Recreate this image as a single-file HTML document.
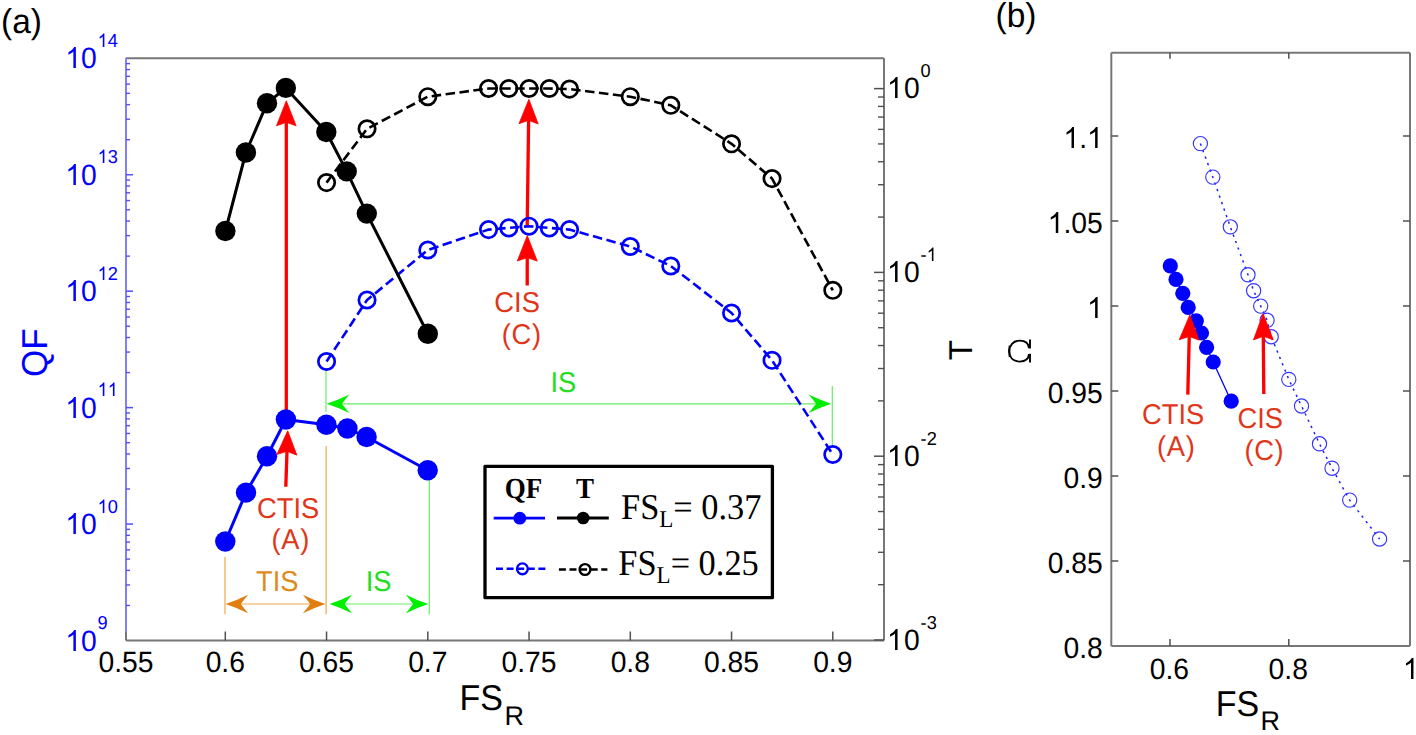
<!DOCTYPE html>
<html><head><meta charset="utf-8"><style>html,body{margin:0;padding:0;background:#fff;width:1416px;height:735px;overflow:hidden}svg{display:block} text{text-rendering:geometricPrecision}</style></head>
<body>
<svg width="1416" height="735" viewBox="0 0 1416 735">
<rect width="1416" height="735" fill="#fff"/>
<line x1="126.00" y1="58.30" x2="884.00" y2="58.30" stroke="#777777" stroke-width="2" />
<line x1="884.00" y1="58.30" x2="884.00" y2="640.50" stroke="#777777" stroke-width="2" />
<line x1="126.00" y1="640.50" x2="884.00" y2="640.50" stroke="#777777" stroke-width="2" />
<g transform="translate(98.46,672.00) scale(1.0,1.04)" fill="#000"><text x="0.00" y="0" font-size="28.3" font-family="'Liberation Sans', sans-serif">0.55</text></g>
<line x1="225.30" y1="640.50" x2="225.30" y2="631.50" stroke="#505050" stroke-width="1.5" />
<g transform="translate(205.63,672.00) scale(1.0,1.04)" fill="#000"><text x="0.00" y="0" font-size="28.3" font-family="'Liberation Sans', sans-serif">0.6</text></g>
<line x1="326.55" y1="640.50" x2="326.55" y2="631.50" stroke="#505050" stroke-width="1.5" />
<g transform="translate(299.01,672.00) scale(1.0,1.04)" fill="#000"><text x="0.00" y="0" font-size="28.3" font-family="'Liberation Sans', sans-serif">0.65</text></g>
<line x1="427.80" y1="640.50" x2="427.80" y2="631.50" stroke="#505050" stroke-width="1.5" />
<g transform="translate(408.13,672.00) scale(1.0,1.04)" fill="#000"><text x="0.00" y="0" font-size="28.3" font-family="'Liberation Sans', sans-serif">0.7</text></g>
<line x1="529.05" y1="640.50" x2="529.05" y2="631.50" stroke="#505050" stroke-width="1.5" />
<g transform="translate(501.51,672.00) scale(1.0,1.04)" fill="#000"><text x="0.00" y="0" font-size="28.3" font-family="'Liberation Sans', sans-serif">0.75</text></g>
<line x1="630.30" y1="640.50" x2="630.30" y2="631.50" stroke="#505050" stroke-width="1.5" />
<g transform="translate(610.63,672.00) scale(1.0,1.04)" fill="#000"><text x="0.00" y="0" font-size="28.3" font-family="'Liberation Sans', sans-serif">0.8</text></g>
<line x1="731.55" y1="640.50" x2="731.55" y2="631.50" stroke="#505050" stroke-width="1.5" />
<g transform="translate(704.01,672.00) scale(1.0,1.04)" fill="#000"><text x="0.00" y="0" font-size="28.3" font-family="'Liberation Sans', sans-serif">0.85</text></g>
<line x1="832.80" y1="640.50" x2="832.80" y2="631.50" stroke="#505050" stroke-width="1.5" />
<g transform="translate(813.13,672.00) scale(1.0,1.04)" fill="#000"><text x="0.00" y="0" font-size="28.3" font-family="'Liberation Sans', sans-serif">0.9</text></g>
<line x1="884.00" y1="88.60" x2="874.00" y2="88.60" stroke="#505050" stroke-width="1.5" />
<line x1="884.00" y1="217.07" x2="878.00" y2="217.07" stroke="#505050" stroke-width="1.4" />
<line x1="884.00" y1="184.71" x2="878.00" y2="184.71" stroke="#505050" stroke-width="1.4" />
<line x1="884.00" y1="161.74" x2="878.00" y2="161.74" stroke="#505050" stroke-width="1.4" />
<line x1="884.00" y1="143.93" x2="878.00" y2="143.93" stroke="#505050" stroke-width="1.4" />
<line x1="884.00" y1="129.38" x2="878.00" y2="129.38" stroke="#505050" stroke-width="1.4" />
<line x1="884.00" y1="117.07" x2="878.00" y2="117.07" stroke="#505050" stroke-width="1.4" />
<line x1="884.00" y1="106.41" x2="878.00" y2="106.41" stroke="#505050" stroke-width="1.4" />
<line x1="884.00" y1="97.01" x2="878.00" y2="97.01" stroke="#505050" stroke-width="1.4" />
<g transform="translate(887.00,98.00) scale(1.0,1.04)" fill="#000"><path transform="translate(0.00,0) scale(28.3,-28.3)" d="M0.3726,0 L0.2847,0 L0.2847,0.5601 Q0.2530,0.5298 0.2012,0.4995 Q0.1494,0.4692 0.1089,0.4541 L0.1089,0.5391 Q0.1816,0.5732 0.2361,0.6216 Q0.2905,0.6699 0.3132,0.7158 L0.3726,0.7158 Z"/><text x="17.03" y="0" font-size="28.3" font-family="'Liberation Sans', sans-serif">0</text></g>
<g transform="translate(920.60,77.00) scale(1.0,1.03)" fill="#000"><text x="0.00" y="0" font-size="18.2" font-family="'Liberation Sans', sans-serif">0</text></g>
<line x1="884.00" y1="272.40" x2="874.00" y2="272.40" stroke="#505050" stroke-width="1.5" />
<line x1="884.00" y1="400.87" x2="878.00" y2="400.87" stroke="#505050" stroke-width="1.4" />
<line x1="884.00" y1="368.51" x2="878.00" y2="368.51" stroke="#505050" stroke-width="1.4" />
<line x1="884.00" y1="345.54" x2="878.00" y2="345.54" stroke="#505050" stroke-width="1.4" />
<line x1="884.00" y1="327.73" x2="878.00" y2="327.73" stroke="#505050" stroke-width="1.4" />
<line x1="884.00" y1="313.18" x2="878.00" y2="313.18" stroke="#505050" stroke-width="1.4" />
<line x1="884.00" y1="300.87" x2="878.00" y2="300.87" stroke="#505050" stroke-width="1.4" />
<line x1="884.00" y1="290.21" x2="878.00" y2="290.21" stroke="#505050" stroke-width="1.4" />
<line x1="884.00" y1="280.81" x2="878.00" y2="280.81" stroke="#505050" stroke-width="1.4" />
<g transform="translate(887.00,282.00) scale(1.0,1.04)" fill="#000"><path transform="translate(0.00,0) scale(28.3,-28.3)" d="M0.3726,0 L0.2847,0 L0.2847,0.5601 Q0.2530,0.5298 0.2012,0.4995 Q0.1494,0.4692 0.1089,0.4541 L0.1089,0.5391 Q0.1816,0.5732 0.2361,0.6216 Q0.2905,0.6699 0.3132,0.7158 L0.3726,0.7158 Z"/><text x="17.03" y="0" font-size="28.3" font-family="'Liberation Sans', sans-serif">0</text></g>
<g transform="translate(920.60,261.00) scale(1.0,1.03)" fill="#000"><text x="0.00" y="0" font-size="18.2" font-family="'Liberation Sans', sans-serif">-</text><path transform="translate(6.06,0) scale(18.2,-18.2)" d="M0.3726,0 L0.2847,0 L0.2847,0.5601 Q0.2530,0.5298 0.2012,0.4995 Q0.1494,0.4692 0.1089,0.4541 L0.1089,0.5391 Q0.1816,0.5732 0.2361,0.6216 Q0.2905,0.6699 0.3132,0.7158 L0.3726,0.7158 Z"/></g>
<line x1="884.00" y1="456.20" x2="874.00" y2="456.20" stroke="#505050" stroke-width="1.5" />
<line x1="884.00" y1="584.67" x2="878.00" y2="584.67" stroke="#505050" stroke-width="1.4" />
<line x1="884.00" y1="552.31" x2="878.00" y2="552.31" stroke="#505050" stroke-width="1.4" />
<line x1="884.00" y1="529.34" x2="878.00" y2="529.34" stroke="#505050" stroke-width="1.4" />
<line x1="884.00" y1="511.53" x2="878.00" y2="511.53" stroke="#505050" stroke-width="1.4" />
<line x1="884.00" y1="496.98" x2="878.00" y2="496.98" stroke="#505050" stroke-width="1.4" />
<line x1="884.00" y1="484.67" x2="878.00" y2="484.67" stroke="#505050" stroke-width="1.4" />
<line x1="884.00" y1="474.01" x2="878.00" y2="474.01" stroke="#505050" stroke-width="1.4" />
<line x1="884.00" y1="464.61" x2="878.00" y2="464.61" stroke="#505050" stroke-width="1.4" />
<g transform="translate(887.00,466.00) scale(1.0,1.04)" fill="#000"><path transform="translate(0.00,0) scale(28.3,-28.3)" d="M0.3726,0 L0.2847,0 L0.2847,0.5601 Q0.2530,0.5298 0.2012,0.4995 Q0.1494,0.4692 0.1089,0.4541 L0.1089,0.5391 Q0.1816,0.5732 0.2361,0.6216 Q0.2905,0.6699 0.3132,0.7158 L0.3726,0.7158 Z"/><text x="17.03" y="0" font-size="28.3" font-family="'Liberation Sans', sans-serif">0</text></g>
<g transform="translate(920.60,445.00) scale(1.0,1.03)" fill="#000"><text x="0.00" y="0" font-size="18.2" font-family="'Liberation Sans', sans-serif">-2</text></g>
<line x1="884.00" y1="640.00" x2="874.00" y2="640.00" stroke="#505050" stroke-width="1.5" />
<g transform="translate(887.00,650.00) scale(1.0,1.04)" fill="#000"><path transform="translate(0.00,0) scale(28.3,-28.3)" d="M0.3726,0 L0.2847,0 L0.2847,0.5601 Q0.2530,0.5298 0.2012,0.4995 Q0.1494,0.4692 0.1089,0.4541 L0.1089,0.5391 Q0.1816,0.5732 0.2361,0.6216 Q0.2905,0.6699 0.3132,0.7158 L0.3726,0.7158 Z"/><text x="17.03" y="0" font-size="28.3" font-family="'Liberation Sans', sans-serif">0</text></g>
<g transform="translate(920.60,629.00) scale(1.0,1.03)" fill="#000"><text x="0.00" y="0" font-size="18.2" font-family="'Liberation Sans', sans-serif">-3</text></g>
<line x1="126.00" y1="58.30" x2="126.00" y2="640.50" stroke="#777777" stroke-width="2" />
<line x1="126.00" y1="57.80" x2="126.00" y2="631.80" stroke="#8080ff" stroke-width="2" />
<line x1="126.00" y1="139.69" x2="130.00" y2="139.69" stroke="#5050ff" stroke-width="1.4" />
<line x1="126.00" y1="119.18" x2="130.00" y2="119.18" stroke="#5050ff" stroke-width="1.4" />
<line x1="126.00" y1="104.64" x2="130.00" y2="104.64" stroke="#5050ff" stroke-width="1.4" />
<line x1="126.00" y1="93.35" x2="130.00" y2="93.35" stroke="#5050ff" stroke-width="1.4" />
<line x1="126.00" y1="84.13" x2="130.00" y2="84.13" stroke="#5050ff" stroke-width="1.4" />
<line x1="126.00" y1="76.34" x2="130.00" y2="76.34" stroke="#5050ff" stroke-width="1.4" />
<line x1="126.00" y1="69.58" x2="130.00" y2="69.58" stroke="#5050ff" stroke-width="1.4" />
<line x1="126.00" y1="63.63" x2="130.00" y2="63.63" stroke="#5050ff" stroke-width="1.4" />
<g transform="translate(65.33,68.00) scale(1.0,1.04)" fill="#0000ff"><path transform="translate(0.00,0) scale(28.3,-28.3)" d="M0.3726,0 L0.2847,0 L0.2847,0.5601 Q0.2530,0.5298 0.2012,0.4995 Q0.1494,0.4692 0.1089,0.4541 L0.1089,0.5391 Q0.1816,0.5732 0.2361,0.6216 Q0.2905,0.6699 0.3132,0.7158 L0.3726,0.7158 Z"/><text x="15.73" y="0" font-size="28.3" font-family="'Liberation Sans', sans-serif">0</text></g>
<g transform="translate(97.60,47.00) scale(1.0,1.03)" fill="#0000ff"><path transform="translate(0.00,0) scale(18.2,-18.2)" d="M0.3726,0 L0.2847,0 L0.2847,0.5601 Q0.2530,0.5298 0.2012,0.4995 Q0.1494,0.4692 0.1089,0.4541 L0.1089,0.5391 Q0.1816,0.5732 0.2361,0.6216 Q0.2905,0.6699 0.3132,0.7158 L0.3726,0.7158 Z"/><text x="10.12" y="0" font-size="18.2" font-family="'Liberation Sans', sans-serif">4</text></g>
<line x1="126.00" y1="174.74" x2="133.00" y2="174.74" stroke="#5050ff" stroke-width="1.5" />
<line x1="126.00" y1="256.13" x2="130.00" y2="256.13" stroke="#5050ff" stroke-width="1.4" />
<line x1="126.00" y1="235.62" x2="130.00" y2="235.62" stroke="#5050ff" stroke-width="1.4" />
<line x1="126.00" y1="221.08" x2="130.00" y2="221.08" stroke="#5050ff" stroke-width="1.4" />
<line x1="126.00" y1="209.79" x2="130.00" y2="209.79" stroke="#5050ff" stroke-width="1.4" />
<line x1="126.00" y1="200.57" x2="130.00" y2="200.57" stroke="#5050ff" stroke-width="1.4" />
<line x1="126.00" y1="192.78" x2="130.00" y2="192.78" stroke="#5050ff" stroke-width="1.4" />
<line x1="126.00" y1="186.02" x2="130.00" y2="186.02" stroke="#5050ff" stroke-width="1.4" />
<line x1="126.00" y1="180.07" x2="130.00" y2="180.07" stroke="#5050ff" stroke-width="1.4" />
<g transform="translate(65.33,185.00) scale(1.0,1.04)" fill="#0000ff"><path transform="translate(0.00,0) scale(28.3,-28.3)" d="M0.3726,0 L0.2847,0 L0.2847,0.5601 Q0.2530,0.5298 0.2012,0.4995 Q0.1494,0.4692 0.1089,0.4541 L0.1089,0.5391 Q0.1816,0.5732 0.2361,0.6216 Q0.2905,0.6699 0.3132,0.7158 L0.3726,0.7158 Z"/><text x="15.73" y="0" font-size="28.3" font-family="'Liberation Sans', sans-serif">0</text></g>
<g transform="translate(97.60,163.00) scale(1.0,1.03)" fill="#0000ff"><path transform="translate(0.00,0) scale(18.2,-18.2)" d="M0.3726,0 L0.2847,0 L0.2847,0.5601 Q0.2530,0.5298 0.2012,0.4995 Q0.1494,0.4692 0.1089,0.4541 L0.1089,0.5391 Q0.1816,0.5732 0.2361,0.6216 Q0.2905,0.6699 0.3132,0.7158 L0.3726,0.7158 Z"/><text x="10.12" y="0" font-size="18.2" font-family="'Liberation Sans', sans-serif">3</text></g>
<line x1="126.00" y1="291.18" x2="133.00" y2="291.18" stroke="#5050ff" stroke-width="1.5" />
<line x1="126.00" y1="372.57" x2="130.00" y2="372.57" stroke="#5050ff" stroke-width="1.4" />
<line x1="126.00" y1="352.06" x2="130.00" y2="352.06" stroke="#5050ff" stroke-width="1.4" />
<line x1="126.00" y1="337.52" x2="130.00" y2="337.52" stroke="#5050ff" stroke-width="1.4" />
<line x1="126.00" y1="326.23" x2="130.00" y2="326.23" stroke="#5050ff" stroke-width="1.4" />
<line x1="126.00" y1="317.01" x2="130.00" y2="317.01" stroke="#5050ff" stroke-width="1.4" />
<line x1="126.00" y1="309.22" x2="130.00" y2="309.22" stroke="#5050ff" stroke-width="1.4" />
<line x1="126.00" y1="302.46" x2="130.00" y2="302.46" stroke="#5050ff" stroke-width="1.4" />
<line x1="126.00" y1="296.51" x2="130.00" y2="296.51" stroke="#5050ff" stroke-width="1.4" />
<g transform="translate(65.33,301.00) scale(1.0,1.04)" fill="#0000ff"><path transform="translate(0.00,0) scale(28.3,-28.3)" d="M0.3726,0 L0.2847,0 L0.2847,0.5601 Q0.2530,0.5298 0.2012,0.4995 Q0.1494,0.4692 0.1089,0.4541 L0.1089,0.5391 Q0.1816,0.5732 0.2361,0.6216 Q0.2905,0.6699 0.3132,0.7158 L0.3726,0.7158 Z"/><text x="15.73" y="0" font-size="28.3" font-family="'Liberation Sans', sans-serif">0</text></g>
<g transform="translate(97.60,280.00) scale(1.0,1.03)" fill="#0000ff"><path transform="translate(0.00,0) scale(18.2,-18.2)" d="M0.3726,0 L0.2847,0 L0.2847,0.5601 Q0.2530,0.5298 0.2012,0.4995 Q0.1494,0.4692 0.1089,0.4541 L0.1089,0.5391 Q0.1816,0.5732 0.2361,0.6216 Q0.2905,0.6699 0.3132,0.7158 L0.3726,0.7158 Z"/><text x="10.12" y="0" font-size="18.2" font-family="'Liberation Sans', sans-serif">2</text></g>
<line x1="126.00" y1="407.62" x2="133.00" y2="407.62" stroke="#5050ff" stroke-width="1.5" />
<line x1="126.00" y1="489.01" x2="130.00" y2="489.01" stroke="#5050ff" stroke-width="1.4" />
<line x1="126.00" y1="468.50" x2="130.00" y2="468.50" stroke="#5050ff" stroke-width="1.4" />
<line x1="126.00" y1="453.96" x2="130.00" y2="453.96" stroke="#5050ff" stroke-width="1.4" />
<line x1="126.00" y1="442.67" x2="130.00" y2="442.67" stroke="#5050ff" stroke-width="1.4" />
<line x1="126.00" y1="433.45" x2="130.00" y2="433.45" stroke="#5050ff" stroke-width="1.4" />
<line x1="126.00" y1="425.66" x2="130.00" y2="425.66" stroke="#5050ff" stroke-width="1.4" />
<line x1="126.00" y1="418.90" x2="130.00" y2="418.90" stroke="#5050ff" stroke-width="1.4" />
<line x1="126.00" y1="412.95" x2="130.00" y2="412.95" stroke="#5050ff" stroke-width="1.4" />
<g transform="translate(65.33,418.00) scale(1.0,1.04)" fill="#0000ff"><path transform="translate(0.00,0) scale(28.3,-28.3)" d="M0.3726,0 L0.2847,0 L0.2847,0.5601 Q0.2530,0.5298 0.2012,0.4995 Q0.1494,0.4692 0.1089,0.4541 L0.1089,0.5391 Q0.1816,0.5732 0.2361,0.6216 Q0.2905,0.6699 0.3132,0.7158 L0.3726,0.7158 Z"/><text x="15.73" y="0" font-size="28.3" font-family="'Liberation Sans', sans-serif">0</text></g>
<g transform="translate(97.60,396.00) scale(1.0,1.03)" fill="#0000ff"><path transform="translate(0.00,0) scale(18.2,-18.2)" d="M0.3726,0 L0.2847,0 L0.2847,0.5601 Q0.2530,0.5298 0.2012,0.4995 Q0.1494,0.4692 0.1089,0.4541 L0.1089,0.5391 Q0.1816,0.5732 0.2361,0.6216 Q0.2905,0.6699 0.3132,0.7158 L0.3726,0.7158 Z"/><path transform="translate(10.12,0) scale(18.2,-18.2)" d="M0.3726,0 L0.2847,0 L0.2847,0.5601 Q0.2530,0.5298 0.2012,0.4995 Q0.1494,0.4692 0.1089,0.4541 L0.1089,0.5391 Q0.1816,0.5732 0.2361,0.6216 Q0.2905,0.6699 0.3132,0.7158 L0.3726,0.7158 Z"/></g>
<line x1="126.00" y1="524.06" x2="133.00" y2="524.06" stroke="#5050ff" stroke-width="1.5" />
<line x1="126.00" y1="605.45" x2="130.00" y2="605.45" stroke="#5050ff" stroke-width="1.4" />
<line x1="126.00" y1="584.94" x2="130.00" y2="584.94" stroke="#5050ff" stroke-width="1.4" />
<line x1="126.00" y1="570.40" x2="130.00" y2="570.40" stroke="#5050ff" stroke-width="1.4" />
<line x1="126.00" y1="559.11" x2="130.00" y2="559.11" stroke="#5050ff" stroke-width="1.4" />
<line x1="126.00" y1="549.89" x2="130.00" y2="549.89" stroke="#5050ff" stroke-width="1.4" />
<line x1="126.00" y1="542.10" x2="130.00" y2="542.10" stroke="#5050ff" stroke-width="1.4" />
<line x1="126.00" y1="535.34" x2="130.00" y2="535.34" stroke="#5050ff" stroke-width="1.4" />
<line x1="126.00" y1="529.39" x2="130.00" y2="529.39" stroke="#5050ff" stroke-width="1.4" />
<g transform="translate(65.33,534.00) scale(1.0,1.04)" fill="#0000ff"><path transform="translate(0.00,0) scale(28.3,-28.3)" d="M0.3726,0 L0.2847,0 L0.2847,0.5601 Q0.2530,0.5298 0.2012,0.4995 Q0.1494,0.4692 0.1089,0.4541 L0.1089,0.5391 Q0.1816,0.5732 0.2361,0.6216 Q0.2905,0.6699 0.3132,0.7158 L0.3726,0.7158 Z"/><text x="15.73" y="0" font-size="28.3" font-family="'Liberation Sans', sans-serif">0</text></g>
<g transform="translate(97.60,513.00) scale(1.0,1.03)" fill="#0000ff"><path transform="translate(0.00,0) scale(18.2,-18.2)" d="M0.3726,0 L0.2847,0 L0.2847,0.5601 Q0.2530,0.5298 0.2012,0.4995 Q0.1494,0.4692 0.1089,0.4541 L0.1089,0.5391 Q0.1816,0.5732 0.2361,0.6216 Q0.2905,0.6699 0.3132,0.7158 L0.3726,0.7158 Z"/><text x="10.12" y="0" font-size="18.2" font-family="'Liberation Sans', sans-serif">0</text></g>
<g transform="translate(65.33,651.00) scale(1.0,1.04)" fill="#0000ff"><path transform="translate(0.00,0) scale(28.3,-28.3)" d="M0.3726,0 L0.2847,0 L0.2847,0.5601 Q0.2530,0.5298 0.2012,0.4995 Q0.1494,0.4692 0.1089,0.4541 L0.1089,0.5391 Q0.1816,0.5732 0.2361,0.6216 Q0.2905,0.6699 0.3132,0.7158 L0.3726,0.7158 Z"/><text x="15.73" y="0" font-size="28.3" font-family="'Liberation Sans', sans-serif">0</text></g>
<g transform="translate(97.60,629.00) scale(1.0,1.03)" fill="#0000ff"><text x="0.00" y="0" font-size="18.2" font-family="'Liberation Sans', sans-serif">9</text></g>
<text transform="translate(47.00,352.60) rotate(-90) scale(1.0,1.03)" font-size="35" fill="#0000ff" text-anchor="middle" font-family="'Liberation Sans', sans-serif" >QF</text>
<text transform="translate(972.00,350.20) rotate(-90)" font-size="33" fill="#000" text-anchor="middle" font-family="'Liberation Sans', sans-serif" >T</text>
<text transform="translate(459.60,710.40) scale(1.0,1.055)" font-size="34" fill="#000" text-anchor="start" font-family="'Liberation Sans', sans-serif" >FS</text>
<text transform="translate(504.40,724.60)" font-size="27" fill="#000" text-anchor="start" font-family="'Liberation Sans', sans-serif" >R</text>
<text transform="translate(1.00,33.10) scale(1.0,1.03)" font-size="33.5" fill="#000" text-anchor="start" font-family="'Liberation Sans', sans-serif" >(a)</text>
<line x1="326.00" y1="369.70" x2="326.00" y2="411.70" stroke="#66ee66" stroke-width="1.2" />
<line x1="832.30" y1="386.00" x2="832.30" y2="446.00" stroke="#66ee66" stroke-width="1.2" />
<line x1="340.00" y1="403.80" x2="820.00" y2="403.80" stroke="#66ee66" stroke-width="1.2" />
<path d="M326.80,403.80 Q339.18,399.62 349.30,394.50 Q343.40,401.80 341.90,403.80 Q343.40,405.80 349.30,413.10 Q339.18,407.99 326.80,403.80 Z" fill="#00ee00"/>
<path d="M831.20,403.80 Q818.83,399.62 808.70,394.50 Q814.60,401.80 816.10,403.80 Q814.60,405.80 808.70,413.10 Q818.83,407.99 831.20,403.80 Z" fill="#00ee00"/>
<text transform="translate(563.30,391.90) scale(1.0,1.05)" font-size="27.3" fill="#22dd22" text-anchor="middle" font-family="'Liberation Sans', sans-serif" >IS</text>
<line x1="225.00" y1="557.00" x2="225.00" y2="614.20" stroke="#f2a54a" stroke-width="1.2" />
<line x1="326.10" y1="446.00" x2="326.10" y2="614.20" stroke="#f2a54a" stroke-width="1.2" />
<line x1="235.00" y1="604.00" x2="316.00" y2="604.00" stroke="#f2a54a" stroke-width="1.2" />
<path d="M225.60,604.00 Q237.97,599.82 248.10,594.70 Q242.20,602.00 240.70,604.00 Q242.20,606.00 248.10,613.30 Q237.97,608.18 225.60,604.00 Z" fill="#e07e10"/>
<path d="M325.40,604.00 Q313.02,599.82 302.90,594.70 Q308.80,602.00 310.30,604.00 Q308.80,606.00 302.90,613.30 Q313.02,608.18 325.40,604.00 Z" fill="#e07e10"/>
<text transform="translate(277.20,590.80) scale(1.0,1.05)" font-size="27.3" fill="#e08a1e" text-anchor="middle" font-family="'Liberation Sans', sans-serif" >TIS</text>
<line x1="429.30" y1="478.00" x2="429.30" y2="614.60" stroke="#66ee66" stroke-width="1.2" />
<line x1="340.00" y1="604.00" x2="420.00" y2="604.00" stroke="#66ee66" stroke-width="1.2" />
<path d="M329.50,604.00 Q341.88,599.82 352.00,594.70 Q346.10,602.00 344.60,604.00 Q346.10,606.00 352.00,613.30 Q341.88,608.18 329.50,604.00 Z" fill="#00ee00"/>
<path d="M428.30,604.00 Q415.93,599.82 405.80,594.70 Q411.70,602.00 413.20,604.00 Q411.70,606.00 405.80,613.30 Q415.93,608.18 428.30,604.00 Z" fill="#00ee00"/>
<text transform="translate(378.60,590.80) scale(1.0,1.05)" font-size="27.3" fill="#22dd22" text-anchor="middle" font-family="'Liberation Sans', sans-serif" >IS</text>
<line x1="286.30" y1="419.00" x2="286.30" y2="121.30" stroke="#ff0000" stroke-width="3.3" />
<path d="M286.30,100.80 L296.10,125.80 L286.30,122.30 L276.50,125.80 Z" fill="#ff0000" stroke="#ff0000" stroke-width="0.8" stroke-linejoin="round"/>
<line x1="285.80" y1="486.70" x2="287.04" y2="450.29" stroke="#ff0000" stroke-width="3.3" />
<path d="M287.70,430.80 L296.88,455.13 L287.00,451.29 L276.89,454.45 Z" fill="#ff0000" stroke="#ff0000" stroke-width="0.8" stroke-linejoin="round"/>
<line x1="527.20" y1="226.00" x2="528.63" y2="119.30" stroke="#ff0000" stroke-width="3.3" />
<path d="M528.90,99.30 L538.17,123.93 L528.62,120.30 L518.97,123.67 Z" fill="#ff0000" stroke="#ff0000" stroke-width="0.8" stroke-linejoin="round"/>
<line x1="527.20" y1="285.50" x2="527.26" y2="256.60" stroke="#ff0000" stroke-width="3.3" />
<path d="M527.30,235.60 L537.25,261.12 L527.26,257.60 L517.25,261.08 Z" fill="#ff0000" stroke="#ff0000" stroke-width="0.8" stroke-linejoin="round"/>
<polyline points="326.55,361.50 367.05,300.00 427.80,250.00 488.55,229.60 508.80,227.90 529.05,226.20 549.30,227.90 569.55,229.60 630.30,246.50 670.80,266.00 731.55,313.00 772.05,360.30 832.80,454.50" fill="none" stroke="#0000ff" stroke-width="2.6" stroke-linejoin="round" stroke-dasharray="9.5 4.5" />
<circle cx="326.55" cy="361.50" r="8.2" fill="none" stroke="#0000ff" stroke-width="2.7"/>
<circle cx="367.05" cy="300.00" r="8.2" fill="none" stroke="#0000ff" stroke-width="2.7"/>
<circle cx="427.80" cy="250.00" r="8.2" fill="none" stroke="#0000ff" stroke-width="2.7"/>
<circle cx="488.55" cy="229.60" r="8.2" fill="none" stroke="#0000ff" stroke-width="2.7"/>
<circle cx="508.80" cy="227.90" r="8.2" fill="none" stroke="#0000ff" stroke-width="2.7"/>
<circle cx="529.05" cy="226.20" r="8.2" fill="none" stroke="#0000ff" stroke-width="2.7"/>
<circle cx="549.30" cy="227.90" r="8.2" fill="none" stroke="#0000ff" stroke-width="2.7"/>
<circle cx="569.55" cy="229.60" r="8.2" fill="none" stroke="#0000ff" stroke-width="2.7"/>
<circle cx="630.30" cy="246.50" r="8.2" fill="none" stroke="#0000ff" stroke-width="2.7"/>
<circle cx="670.80" cy="266.00" r="8.2" fill="none" stroke="#0000ff" stroke-width="2.7"/>
<circle cx="731.55" cy="313.00" r="8.2" fill="none" stroke="#0000ff" stroke-width="2.7"/>
<circle cx="772.05" cy="360.30" r="8.2" fill="none" stroke="#0000ff" stroke-width="2.7"/>
<circle cx="832.80" cy="454.50" r="8.2" fill="none" stroke="#0000ff" stroke-width="2.7"/>
<polyline points="326.55,182.60 367.05,128.80 427.80,96.70 488.55,88.50 508.80,88.50 529.05,88.50 549.30,88.50 569.55,89.10 630.30,96.70 670.80,105.30 731.55,143.80 772.05,178.60 832.80,290.30" fill="none" stroke="#000" stroke-width="2.6" stroke-linejoin="round" stroke-dasharray="9.5 4.5" />
<circle cx="326.55" cy="182.60" r="8.2" fill="none" stroke="#000" stroke-width="2.7"/>
<circle cx="367.05" cy="128.80" r="8.2" fill="none" stroke="#000" stroke-width="2.7"/>
<circle cx="427.80" cy="96.70" r="8.2" fill="none" stroke="#000" stroke-width="2.7"/>
<circle cx="488.55" cy="88.50" r="8.2" fill="none" stroke="#000" stroke-width="2.7"/>
<circle cx="508.80" cy="88.50" r="8.2" fill="none" stroke="#000" stroke-width="2.7"/>
<circle cx="529.05" cy="88.50" r="8.2" fill="none" stroke="#000" stroke-width="2.7"/>
<circle cx="549.30" cy="88.50" r="8.2" fill="none" stroke="#000" stroke-width="2.7"/>
<circle cx="569.55" cy="89.10" r="8.2" fill="none" stroke="#000" stroke-width="2.7"/>
<circle cx="630.30" cy="96.70" r="8.2" fill="none" stroke="#000" stroke-width="2.7"/>
<circle cx="670.80" cy="105.30" r="8.2" fill="none" stroke="#000" stroke-width="2.7"/>
<circle cx="731.55" cy="143.80" r="8.2" fill="none" stroke="#000" stroke-width="2.7"/>
<circle cx="772.05" cy="178.60" r="8.2" fill="none" stroke="#000" stroke-width="2.7"/>
<circle cx="832.80" cy="290.30" r="8.2" fill="none" stroke="#000" stroke-width="2.7"/>
<polyline points="225.30,541.50 246.00,492.60 267.00,456.20 285.90,419.50 326.40,424.70 347.40,428.50 366.60,437.00 427.70,470.20" fill="none" stroke="#0000ff" stroke-width="3.0" stroke-linejoin="round"  />
<circle cx="225.30" cy="541.50" r="10.2" fill="#0000ff"/>
<circle cx="246.00" cy="492.60" r="10.2" fill="#0000ff"/>
<circle cx="267.00" cy="456.20" r="10.2" fill="#0000ff"/>
<circle cx="285.90" cy="419.50" r="10.2" fill="#0000ff"/>
<circle cx="326.40" cy="424.70" r="10.2" fill="#0000ff"/>
<circle cx="347.40" cy="428.50" r="10.2" fill="#0000ff"/>
<circle cx="366.60" cy="437.00" r="10.2" fill="#0000ff"/>
<circle cx="427.70" cy="470.20" r="10.2" fill="#0000ff"/>
<polyline points="225.40,231.00 245.90,152.50 267.00,103.30 285.80,87.90 326.30,132.00 346.70,171.40 366.80,213.60 427.80,333.80" fill="none" stroke="#000" stroke-width="3.0" stroke-linejoin="round"  />
<circle cx="225.40" cy="231.00" r="10.2" fill="#000"/>
<circle cx="245.90" cy="152.50" r="10.2" fill="#000"/>
<circle cx="267.00" cy="103.30" r="10.2" fill="#000"/>
<circle cx="285.80" cy="87.90" r="10.2" fill="#000"/>
<circle cx="326.30" cy="132.00" r="10.2" fill="#000"/>
<circle cx="346.70" cy="171.40" r="10.2" fill="#000"/>
<circle cx="366.80" cy="213.60" r="10.2" fill="#000"/>
<circle cx="427.80" cy="333.80" r="10.2" fill="#000"/>
<text transform="translate(288.20,518.20) scale(1.0,1.05)" font-size="27.3" fill="#e0361a" text-anchor="middle" font-family="'Liberation Sans', sans-serif" >CTIS</text>
<text transform="translate(290.70,548.70) scale(1.0,1.05)" font-size="27.3" fill="#e0361a" text-anchor="middle" font-family="'Liberation Sans', sans-serif" letter-spacing="0.7">(A)</text>
<text transform="translate(517.10,312.40) scale(1.0,1.05)" font-size="27.3" fill="#e0361a" text-anchor="middle" font-family="'Liberation Sans', sans-serif" >CIS</text>
<text transform="translate(521.70,343.70) scale(1.0,1.05)" font-size="27.3" fill="#e0361a" text-anchor="middle" font-family="'Liberation Sans', sans-serif" letter-spacing="0.7">(C)</text>
<rect x="485.0" y="466.3" width="287.4" height="131.4" fill="#fff" stroke="#000" stroke-width="3.3" stroke-linejoin="round"/>
<text transform="translate(523.40,497.60) scale(1.0,1.08)" font-size="27" fill="#000" text-anchor="middle" font-family="'Liberation Serif', serif" font-weight="bold">QF</text>
<text transform="translate(585.00,497.60) scale(1.0,1.08)" font-size="27" fill="#000" text-anchor="middle" font-family="'Liberation Serif', serif" font-weight="bold">T</text>
<line x1="493.70" y1="518.20" x2="545.00" y2="518.20" stroke="#0000ff" stroke-width="2.8" />
<circle cx="519.8" cy="518.2" r="6.4" fill="#0000ff"/>
<line x1="557.00" y1="518.00" x2="608.80" y2="518.00" stroke="#000" stroke-width="2.8" />
<circle cx="583.2" cy="518.0" r="6.3" fill="#000"/>
<line x1="496.00" y1="568.80" x2="545.50" y2="568.80" stroke="#0000ff" stroke-width="2.6" stroke-dasharray="7 3.6"/>
<circle cx="522.4" cy="568.8" r="5.4" fill="none" stroke="#0000ff" stroke-width="2.4"/>
<line x1="558.90" y1="569.50" x2="607.40" y2="569.50" stroke="#000" stroke-width="2.6" stroke-dasharray="7 3.6"/>
<circle cx="585" cy="569.5" r="5.4" fill="none" stroke="#000" stroke-width="2.4"/>
<text transform="translate(621.00,519.00) scale(1.0,1.05)" font-size="34.4" fill="#000" text-anchor="start" font-family="'Liberation Serif', serif" >FS<tspan font-size="23" dy="7.2">L</tspan><tspan dy="-7.2">= 0.37</tspan></text>
<text transform="translate(618.30,575.00) scale(1.0,1.05)" font-size="34.4" fill="#000" text-anchor="start" font-family="'Liberation Serif', serif" >FS<tspan font-size="23" dy="7.2">L</tspan><tspan dy="-7.2">= 0.25</tspan></text>
<line x1="1111.30" y1="52.80" x2="1410.00" y2="52.80" stroke="#777777" stroke-width="2" />
<line x1="1410.00" y1="52.80" x2="1410.00" y2="646.00" stroke="#777777" stroke-width="2" />
<line x1="1111.30" y1="646.00" x2="1410.00" y2="646.00" stroke="#777777" stroke-width="2" />
<line x1="1111.30" y1="52.80" x2="1111.30" y2="646.00" stroke="#777777" stroke-width="2" />
<line x1="1170.00" y1="646.00" x2="1170.00" y2="639.00" stroke="#505050" stroke-width="1.5" />
<line x1="1170.00" y1="52.80" x2="1170.00" y2="58.80" stroke="#505050" stroke-width="1.5" />
<g transform="translate(1149.73,679.00) scale(1.0,1.04)" fill="#000"><text x="0.00" y="0" font-size="28.3" font-family="'Liberation Sans', sans-serif">0.6</text></g>
<line x1="1288.80" y1="646.00" x2="1288.80" y2="639.00" stroke="#505050" stroke-width="1.5" />
<line x1="1288.80" y1="52.80" x2="1288.80" y2="58.80" stroke="#505050" stroke-width="1.5" />
<g transform="translate(1268.53,679.00) scale(1.0,1.04)" fill="#000"><text x="0.00" y="0" font-size="28.3" font-family="'Liberation Sans', sans-serif">0.8</text></g>
<g transform="translate(1402.93,679.00) scale(1.0,1.04)" fill="#000"><path transform="translate(0.00,0) scale(28.3,-28.3)" d="M0.3726,0 L0.2847,0 L0.2847,0.5601 Q0.2530,0.5298 0.2012,0.4995 Q0.1494,0.4692 0.1089,0.4541 L0.1089,0.5391 Q0.1816,0.5732 0.2361,0.6216 Q0.2905,0.6699 0.3132,0.7158 L0.3726,0.7158 Z"/></g>
<g transform="translate(1063.46,658.00) scale(1.0,1.04)" fill="#000"><text x="0.00" y="0" font-size="28.3" font-family="'Liberation Sans', sans-serif">0.8</text></g>
<line x1="1111.30" y1="561.00" x2="1118.30" y2="561.00" stroke="#505050" stroke-width="1.5" />
<line x1="1410.00" y1="561.00" x2="1403.00" y2="561.00" stroke="#505050" stroke-width="1.5" />
<g transform="translate(1047.73,573.00) scale(1.0,1.04)" fill="#000"><text x="0.00" y="0" font-size="28.3" font-family="'Liberation Sans', sans-serif">0.85</text></g>
<line x1="1111.30" y1="476.00" x2="1118.30" y2="476.00" stroke="#505050" stroke-width="1.5" />
<line x1="1410.00" y1="476.00" x2="1403.00" y2="476.00" stroke="#505050" stroke-width="1.5" />
<g transform="translate(1063.46,488.00) scale(1.0,1.04)" fill="#000"><text x="0.00" y="0" font-size="28.3" font-family="'Liberation Sans', sans-serif">0.9</text></g>
<line x1="1111.30" y1="391.00" x2="1118.30" y2="391.00" stroke="#505050" stroke-width="1.5" />
<line x1="1410.00" y1="391.00" x2="1403.00" y2="391.00" stroke="#505050" stroke-width="1.5" />
<g transform="translate(1047.73,403.00) scale(1.0,1.04)" fill="#000"><text x="0.00" y="0" font-size="28.3" font-family="'Liberation Sans', sans-serif">0.95</text></g>
<line x1="1111.30" y1="306.00" x2="1118.30" y2="306.00" stroke="#505050" stroke-width="1.5" />
<line x1="1410.00" y1="306.00" x2="1403.00" y2="306.00" stroke="#505050" stroke-width="1.5" />
<g transform="translate(1087.07,318.00) scale(1.0,1.04)" fill="#000"><path transform="translate(0.00,0) scale(28.3,-28.3)" d="M0.3726,0 L0.2847,0 L0.2847,0.5601 Q0.2530,0.5298 0.2012,0.4995 Q0.1494,0.4692 0.1089,0.4541 L0.1089,0.5391 Q0.1816,0.5732 0.2361,0.6216 Q0.2905,0.6699 0.3132,0.7158 L0.3726,0.7158 Z"/></g>
<line x1="1111.30" y1="221.00" x2="1118.30" y2="221.00" stroke="#505050" stroke-width="1.5" />
<line x1="1410.00" y1="221.00" x2="1403.00" y2="221.00" stroke="#505050" stroke-width="1.5" />
<g transform="translate(1047.73,233.00) scale(1.0,1.04)" fill="#000"><path transform="translate(0.00,0) scale(28.3,-28.3)" d="M0.3726,0 L0.2847,0 L0.2847,0.5601 Q0.2530,0.5298 0.2012,0.4995 Q0.1494,0.4692 0.1089,0.4541 L0.1089,0.5391 Q0.1816,0.5732 0.2361,0.6216 Q0.2905,0.6699 0.3132,0.7158 L0.3726,0.7158 Z"/><text x="15.73" y="0" font-size="28.3" font-family="'Liberation Sans', sans-serif">.05</text></g>
<line x1="1111.30" y1="136.00" x2="1118.30" y2="136.00" stroke="#505050" stroke-width="1.5" />
<line x1="1410.00" y1="136.00" x2="1403.00" y2="136.00" stroke="#505050" stroke-width="1.5" />
<g transform="translate(1063.46,148.00) scale(1.0,1.04)" fill="#000"><path transform="translate(0.00,0) scale(28.3,-28.3)" d="M0.3726,0 L0.2847,0 L0.2847,0.5601 Q0.2530,0.5298 0.2012,0.4995 Q0.1494,0.4692 0.1089,0.4541 L0.1089,0.5391 Q0.1816,0.5732 0.2361,0.6216 Q0.2905,0.6699 0.3132,0.7158 L0.3726,0.7158 Z"/><text x="15.73" y="0" font-size="28.3" font-family="'Liberation Sans', sans-serif">.</text><path transform="translate(23.60,0) scale(28.3,-28.3)" d="M0.3726,0 L0.2847,0 L0.2847,0.5601 Q0.2530,0.5298 0.2012,0.4995 Q0.1494,0.4692 0.1089,0.4541 L0.1089,0.5391 Q0.1816,0.5732 0.2361,0.6216 Q0.2905,0.6699 0.3132,0.7158 L0.3726,0.7158 Z"/></g>
<path d="M1029.0,348.2 C1028.6,343.2 1025.2,340.6 1019.8,340.6 C1012.8,340.6 1009.4,345.6 1009.4,351.3 C1009.4,357.0 1012.8,361.6 1019.8,361.6 C1025.2,361.6 1028.6,359.2 1029.0,354.2" fill="none" stroke="#000" stroke-width="1.9"/>
<path d="M1009.4,345.5 C1008.6,348.5 1008.6,354 1009.4,357" fill="none" stroke="#000" stroke-width="1.2"/>
<line x1="1030.00" y1="339.60" x2="1030.00" y2="348.40" stroke="#000" stroke-width="1.9" />
<line x1="1030.00" y1="353.80" x2="1030.00" y2="362.50" stroke="#000" stroke-width="1.9" />
<text transform="translate(1215.80,715.50) scale(1.0,1.055)" font-size="34" fill="#000" text-anchor="start" font-family="'Liberation Sans', sans-serif" >FS</text>
<text transform="translate(1260.50,730.40)" font-size="27" fill="#000" text-anchor="start" font-family="'Liberation Sans', sans-serif" >R</text>
<text transform="translate(995.50,26.90) scale(1.0,1.03)" font-size="33.5" fill="#000" text-anchor="start" font-family="'Liberation Sans', sans-serif" >(b)</text>
<polyline points="1200.40,143.60 1212.80,177.10 1230.30,226.80 1248.00,274.80 1253.60,290.70 1260.70,306.10 1267.10,320.30 1271.20,336.70 1288.80,379.40 1301.50,406.00 1319.50,443.80 1332.00,468.20 1349.70,500.10 1379.60,539.00" fill="none" stroke="#2020ff" stroke-width="1.5" stroke-linejoin="round" stroke-dasharray="2.3 4.6" />
<circle cx="1200.40" cy="143.60" r="7.1" fill="none" stroke="#3434ff" stroke-width="1.15"/>
<circle cx="1212.80" cy="177.10" r="7.1" fill="none" stroke="#3434ff" stroke-width="1.15"/>
<circle cx="1230.30" cy="226.80" r="7.1" fill="none" stroke="#3434ff" stroke-width="1.15"/>
<circle cx="1248.00" cy="274.80" r="7.1" fill="none" stroke="#3434ff" stroke-width="1.15"/>
<circle cx="1253.60" cy="290.70" r="7.1" fill="none" stroke="#3434ff" stroke-width="1.15"/>
<circle cx="1260.70" cy="306.10" r="7.1" fill="none" stroke="#3434ff" stroke-width="1.15"/>
<circle cx="1267.10" cy="320.30" r="7.1" fill="none" stroke="#3434ff" stroke-width="1.15"/>
<circle cx="1271.20" cy="336.70" r="7.1" fill="none" stroke="#3434ff" stroke-width="1.15"/>
<circle cx="1288.80" cy="379.40" r="7.1" fill="none" stroke="#3434ff" stroke-width="1.15"/>
<circle cx="1301.50" cy="406.00" r="7.1" fill="none" stroke="#3434ff" stroke-width="1.15"/>
<circle cx="1319.50" cy="443.80" r="7.1" fill="none" stroke="#3434ff" stroke-width="1.15"/>
<circle cx="1332.00" cy="468.20" r="7.1" fill="none" stroke="#3434ff" stroke-width="1.15"/>
<circle cx="1349.70" cy="500.10" r="7.1" fill="none" stroke="#3434ff" stroke-width="1.15"/>
<circle cx="1379.60" cy="539.00" r="7.1" fill="none" stroke="#3434ff" stroke-width="1.15"/>
<polyline points="1170.30,265.90 1176.00,279.40 1182.80,293.30 1188.20,307.40 1196.30,320.80 1201.50,333.00 1206.60,347.30 1213.20,362.00 1231.20,401.20" fill="none" stroke="#0000ff" stroke-width="1.3" stroke-linejoin="round"  />
<circle cx="1170.30" cy="265.90" r="7.6" fill="#0000ff"/>
<circle cx="1176.00" cy="279.40" r="7.6" fill="#0000ff"/>
<circle cx="1182.80" cy="293.30" r="7.6" fill="#0000ff"/>
<circle cx="1188.20" cy="307.40" r="7.6" fill="#0000ff"/>
<circle cx="1196.30" cy="320.80" r="7.6" fill="#0000ff"/>
<circle cx="1201.50" cy="333.00" r="7.6" fill="#0000ff"/>
<circle cx="1206.60" cy="347.30" r="7.6" fill="#0000ff"/>
<circle cx="1213.20" cy="362.00" r="7.6" fill="#0000ff"/>
<circle cx="1231.20" cy="401.20" r="7.6" fill="#0000ff"/>
<line x1="1187.80" y1="394.60" x2="1189.29" y2="335.39" stroke="#ff0000" stroke-width="3.3" />
<path d="M1189.80,314.90 L1199.07,340.14 L1189.26,336.39 L1179.28,339.64 Z" fill="#ff0000" stroke="#ff0000" stroke-width="0.8" stroke-linejoin="round"/>
<line x1="1263.80" y1="393.90" x2="1263.29" y2="335.30" stroke="#ff0000" stroke-width="3.3" />
<path d="M1263.10,313.80 L1273.23,339.71 L1263.30,336.30 L1253.43,339.89 Z" fill="#ff0000" stroke="#ff0000" stroke-width="0.8" stroke-linejoin="round"/>
<text transform="translate(1173.20,424.10) scale(1.0,1.05)" font-size="27.3" fill="#e0361a" text-anchor="middle" font-family="'Liberation Sans', sans-serif" >CTIS</text>
<text transform="translate(1176.30,456.10) scale(1.0,1.05)" font-size="27.3" fill="#e0361a" text-anchor="middle" font-family="'Liberation Sans', sans-serif" letter-spacing="0.7">(A)</text>
<text transform="translate(1260.20,427.80) scale(1.0,1.05)" font-size="27.3" fill="#e0361a" text-anchor="middle" font-family="'Liberation Sans', sans-serif" >CIS</text>
<text transform="translate(1264.40,459.60) scale(1.0,1.05)" font-size="27.3" fill="#e0361a" text-anchor="middle" font-family="'Liberation Sans', sans-serif" letter-spacing="0.7">(C)</text>
</svg>
</body></html>
